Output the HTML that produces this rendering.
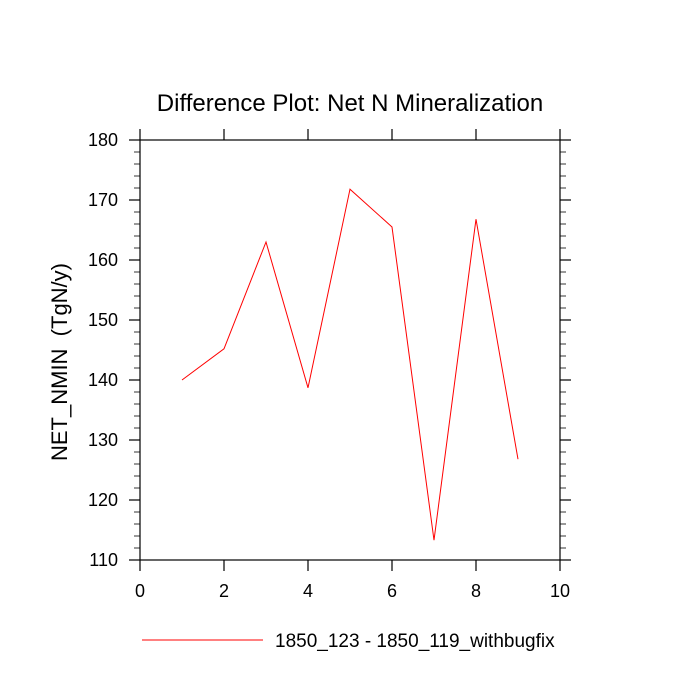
<!DOCTYPE html>
<html><head><meta charset="utf-8"><style>body{margin:0;background:#fff}svg{display:block}text{font-family:"Liberation Sans",sans-serif;fill:#000}</style></head>
<body>
<svg id="c" width="700" height="700"></svg>
<script>
const xVals=[1,2,3,4,5,6,7,8,9];
const yVals=[140,145.2,163,138.7,171.8,165.5,113.3,166.8,126.8];
const xTicks=[0,2,4,6,8,10];
const yTicks=[110,120,130,140,150,160,170,180];
const seriesName="1850_123 - 1850_119_withbugfix";
const L=140,R=560,T=140,B=560;
const sx=v=>L+(v-0)/(10-0)*(R-L);
const sy=v=>B-(v-110)/(180-110)*(B-T);
const svg=document.getElementById('c');const NS='http://www.w3.org/2000/svg';
function mk(t,a,name,txt){const e=document.createElementNS(NS,t);for(const k in a)e.setAttribute(k,a[k]);


if(txt!==undefined)e.textContent=txt;svg.appendChild(e);return e;}
mk('rect',{x:L,y:T,width:R-L,height:B-T,fill:'none',stroke:'#000','stroke-width':1.2},'plot-frame');
xTicks.forEach(v=>{const x=sx(v);
mk('line',{x1:x,x2:x,y1:B,y2:B+11,stroke:'#000','stroke-width':1.2},'x-tick');
mk('line',{x1:x,x2:x,y1:T,y2:T-11,stroke:'#000','stroke-width':1.2},'x-tick-top');
mk('text',{x:x,y:B+37,'text-anchor':'middle','font-size':18},'x-tick-label',v);});
for(let v=110;v<=180;v+=2){const y=sy(v);const major=(v%10===0);const len=major?11:6;
mk('line',{x1:L,x2:L-len,y1:y,y2:y,stroke:'#000','stroke-width':major?1.2:0.8},'y-tick');
mk('line',{x1:R,x2:R+len,y1:y,y2:y,stroke:'#000','stroke-width':major?1.2:0.8},'y-tick-right');}
yTicks.forEach(v=>mk('text',{x:L-22,y:sy(v)+6,'text-anchor':'end','font-size':18},'y-tick-label',v));
mk('polyline',{points:xVals.map((x,i)=>sx(x)+','+sy(yVals[i])).join(' '),fill:'none',stroke:'#ff0000','stroke-width':1},'series-line');
mk('text',{x:350,y:111,'text-anchor':'middle','font-size':24},'chart-title','Difference Plot: Net N Mineralization');
mk('text',{x:0,y:0,'text-anchor':'middle','font-size':22,'xml:space':'preserve',style:'white-space:pre',transform:'translate(67,362) rotate(-90)'},'y-axis-title','NET_NMIN  (TgN/y)');
mk('line',{x1:142,x2:263,y1:640,y2:640,stroke:'#ff0000','stroke-width':1},'legend-line');
mk('text',{x:275,y:647,'font-size':19},'legend-label',seriesName);
</script>
</body></html>
